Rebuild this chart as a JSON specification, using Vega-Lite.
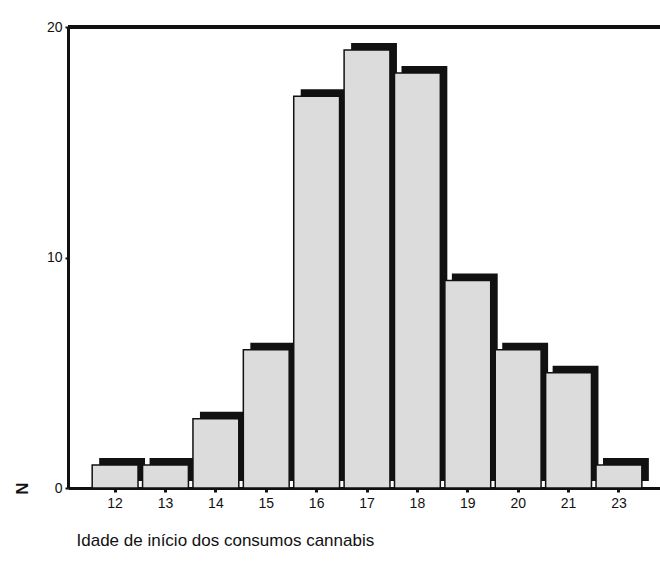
{
  "$schema": "https://vega.github.io/schema/vega-lite/v6.json",
  "width": 592,
  "height": 461,
  "autosize": "none",
  "padding": {"left": 68, "top": 27, "right": 0, "bottom": 81},
  "background": "white",
  "config": {
    "view": {"stroke": null},
    "font": "Liberation Sans"
  },
  "data": {
    "values": [
      {"idade": "12", "n": 1},
      {"idade": "13", "n": 1},
      {"idade": "14", "n": 3},
      {"idade": "15", "n": 6},
      {"idade": "16", "n": 17},
      {"idade": "17", "n": 19},
      {"idade": "18", "n": 18},
      {"idade": "19", "n": 9},
      {"idade": "20", "n": 6},
      {"idade": "21", "n": 5},
      {"idade": "23", "n": 1}
    ]
  },
  "layer": [
    {
      "mark": {"type": "bar", "color": "#111111", "xOffset": 7, "yOffset": -7, "width": {"band": 0.91}},
      "encoding": {
        "x": {
          "field": "idade", "type": "ordinal", "sort": null,
          "scale": {"paddingInner": 0, "paddingOuter": 0.375, "align": 0.58},
          "axis": {
            "title": "Idade de início dos consumos cannabis",
            "labelAngle": 0,
            "labelFontSize": 14,
            "labelColor": "#111",
            "labelPadding": 4,
            "domainColor": "#111",
            "domainWidth": 3,
            "tickColor": "#111",
            "tickWidth": 3,
            "tickSize": 4,
            "titleFontSize": 17,
            "titleFontWeight": "normal",
            "titleColor": "#111",
            "titleAnchor": "start",
            "titleAlign": "left",
            "titleX": 8,
            "titleY": 52,
            "titleBaseline": "middle"
          }
        },
        "y": {
          "field": "n", "type": "quantitative",
          "scale": {"domain": [0, 20], "nice": false},
          "axis": {
            "values": [0, 10, 20],
            "title": "N",
            "titleAngle": -90,
            "titleX": -46,
            "titleY": 461,
            "titleAlign": "center",
            "titleBaseline": "middle",
            "titleFontSize": 17,
            "titleFontWeight": "bold",
            "titleColor": "#111",
            "labelFontSize": 14,
            "labelColor": "#111",
            "labelPadding": 3,
            "domainColor": "#111",
            "domainWidth": 3,
            "tickColor": "#111",
            "tickWidth": 2,
            "tickSize": 3,
            "grid": false
          }
        }
      }
    },
    {
      "mark": {"type": "bar", "color": "#dcdcdc", "stroke": "#111111", "strokeWidth": 1.5, "width": {"band": 0.91}},
      "encoding": {
        "x": {"field": "idade", "type": "ordinal", "sort": null},
        "y": {"field": "n", "type": "quantitative"}
      }
    },
    {
      "mark": {"type": "rule", "color": "#111111", "strokeWidth": 3},
      "encoding": {"y": {"datum": 20}}
    }
  ]
}
